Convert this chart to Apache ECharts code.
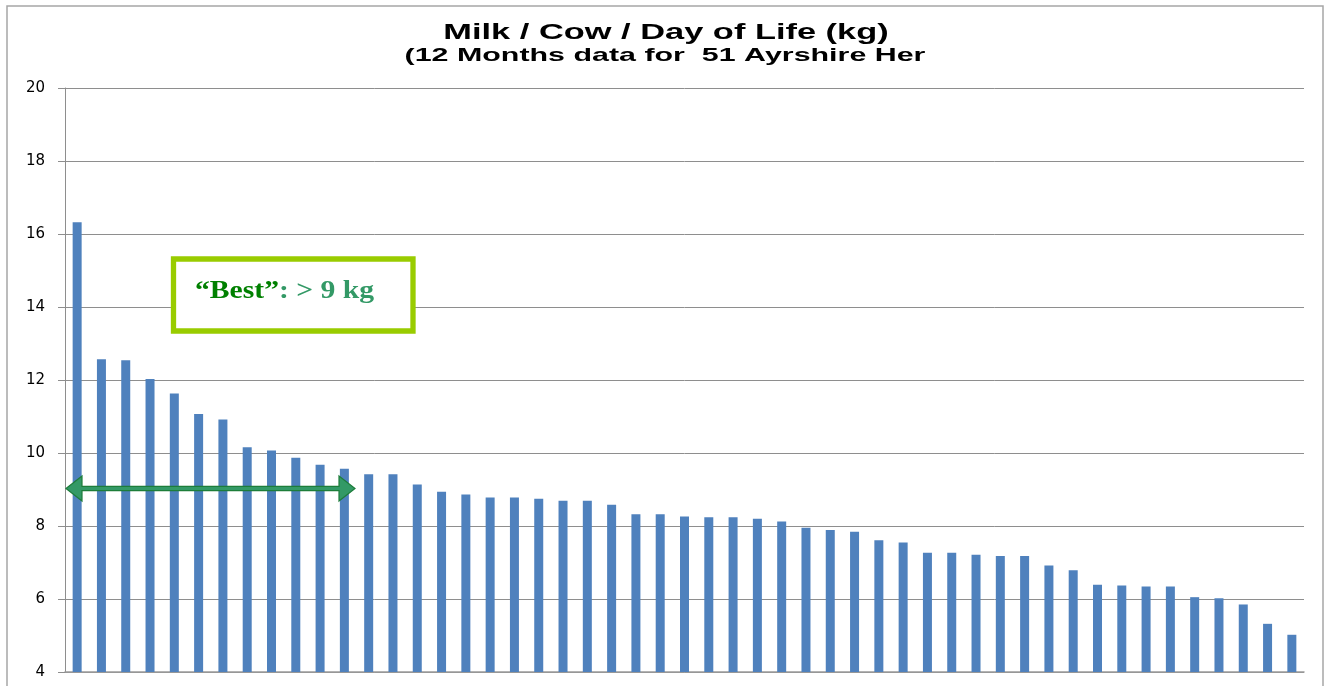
<!DOCTYPE html>
<html>
<head>
<meta charset="utf-8">
<title>Milk / Cow / Day of Life</title>
<script src="https://cdn.jsdelivr.net/npm/echarts@6/dist/echarts.min.js"></script>
<style>
    html, body { margin: 0; padding: 0; background: #fff; }
    #milk-chart { width: 1325px; height: 686px; }
</style>
</head>
<body>
<div id="milk-chart"></div>
<script>
// one bar per cow, sorted high to low
let cows = ['1', '2', '3', '4', '5', '6', '7', '8', '9', '10',
    '11', '12', '13', '14', '15', '16', '17', '18', '19', '20',
    '21', '22', '23', '24', '25', '26', '27', '28', '29', '30',
    '31', '32', '33', '34', '35', '36', '37', '38', '39', '40',
    '41', '42', '43', '44', '45', '46', '47', '48', '49', '50', '51'];

let milkPerDay = [16.32, 12.57, 12.54, 12.03, 11.63, 11.07, 10.92, 10.16, 10.07, 9.87,
    9.68, 9.57, 9.42, 9.42, 9.14, 8.94, 8.86, 8.78, 8.78, 8.75,
    8.69, 8.69, 8.58, 8.32, 8.32, 8.26, 8.24, 8.24, 8.20, 8.12,
    7.95, 7.89, 7.84, 7.61, 7.55, 7.27, 7.27, 7.21, 7.18, 7.18,
    6.92, 6.79, 6.39, 6.37, 6.34, 6.34, 6.05, 6.02, 5.85, 5.32, 5.02];

let yMin = 4;
let yMax = 20;
let yStep = 2;

let titleText = 'Milk / Cow / Day of Life (kg)';
let subText = '(12 Months data for  51 Ayrshire Her';

let chart = echarts.init(document.getElementById('milk-chart'));

let option = {
    backgroundColor: '#fff',
    animation: false,
    grid: {
        left: 65,
        right: 21,
        top: 88,
        bottom: 14
    },
    xAxis: {
        type: 'category',
        data: cows,
        axisLine: { lineStyle: { color: '#9a9a9a', width: 1.5 } },
        axisTick: { show: false },
        axisLabel: { show: false },
        splitLine: { show: false }
    },
    yAxis: {
        type: 'value',
        min: yMin,
        max: yMax,
        interval: yStep,
        axisLine: { show: true, lineStyle: { color: '#8e8e8e' } },
        axisTick: { show: true, length: 7, lineStyle: { color: '#8e8e8e' } },
        axisLabel: {
            margin: 20,
            color: '#000',
            fontFamily: 'DejaVu Sans',
            fontSize: 15
        },
        splitLine: { lineStyle: { color: '#8e8e8e' } }
    },
    series: [
        {
            name: 'Milk / Cow / Day of Life',
            type: 'bar',
            barWidth: 9,
            itemStyle: { color: '#4f81bd' },
            data: milkPerDay
        }
    ],
    graphic: [
        // chart frame
        {
            type: 'rect',
            shape: { x: 7, y: 6, width: 1316, height: 700 },
            style: { fill: null, stroke: '#a6a6a6', lineWidth: 1.5 },
            z: 0
        },
        {
            type: 'text',
            x: 666,
            y: 33,
            scaleX: 1.6,
            style: {
                text: titleText,
                fill: '#000',
                font: 'bold 21.5px "Liberation Sans", Arial, sans-serif',
                textAlign: 'center',
                textVerticalAlign: 'middle'
            }
        },
        {
            type: 'text',
            x: 665,
            y: 56,
            scaleX: 1.6,
            style: {
                text: subText,
                fill: '#000',
                font: 'bold 19px "Liberation Sans", Arial, sans-serif',
                textAlign: 'center',
                textVerticalAlign: 'middle'
            }
        },
        // "Best" callout
        {
            type: 'rect',
            shape: { x: 173.5, y: 259, width: 239.5, height: 72 },
            style: { fill: '#fff', stroke: '#99cc00', lineWidth: 5.3 },
            z: 10
        },
        {
            type: 'text',
            x: 195,
            y: 291,
            scaleX: 1.14,
            z: 11,
            style: {
                text: '{a|“Best”}{b|: > 9 kg}',
                textAlign: 'left',
                textVerticalAlign: 'middle',
                rich: {
                    a: {
                        fill: '#008000',
                        fontFamily: 'Liberation Serif',
                        fontWeight: 'bold',
                        fontSize: 26
                    },
                    b: {
                        fill: '#339966',
                        fontFamily: 'Liberation Serif',
                        fontWeight: 'bold',
                        fontSize: 26
                    }
                }
            }
        },
        // double arrow over the cows above 9 kg
        {
            type: 'polygon',
            z: 10,
            shape: {
                points: [
                    [66, 488.5], [82, 476], [82, 486.4], [339, 486.4], [339, 476],
                    [355, 488.5], [339, 501], [339, 490.6], [82, 490.6], [82, 501]
                ]
            },
            style: { fill: '#339966', stroke: '#1d7d3a', lineWidth: 1.2 }
        }
    ]
};

chart.setOption(option);
</script>
</body>
</html>
